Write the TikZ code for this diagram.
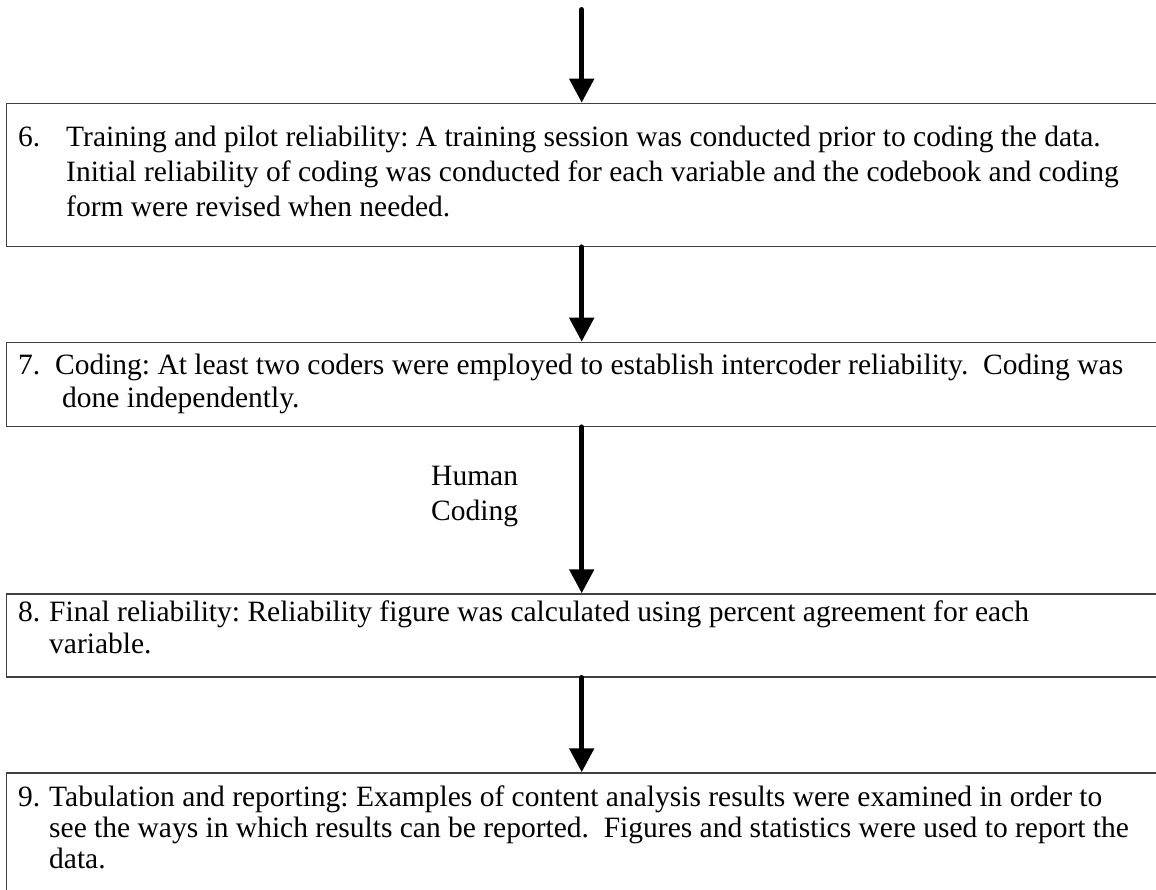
\documentclass[tikz,border=0pt]{standalone}
\usepackage{fontspec}
\setmainfont{Liberation Serif}
\usetikzlibrary{arrows.meta}
\begin{document}
\begin{tikzpicture}[x=1pt,y=-1pt,
  stepbox/.style={draw=black!75, line width=1.2pt, rectangle, inner sep=0pt,
    anchor=north west, minimum width=1180pt},
  txt/.style={anchor=base west, inner sep=0pt, font=\fontsize{29.5}{#1}\selectfont},
  flow/.style={line width=5pt, line cap=round, -{Triangle[length=24pt,width=24pt]}}]
\useasboundingbox (0,0) rectangle (1156,890);
\clip (0,0) rectangle (1156,890);
\frenchspacing
% boxes
\node[stepbox, minimum height=143pt] (b6) at (6,102.7) {};
\node[stepbox, minimum height=84pt]  (b7) at (6,341.7) {};
\node[stepbox, minimum height=83pt]  (b8) at (6,593.3) {};
\node[stepbox, minimum height=160pt] (b9) at (6,772.3) {};
% texts
\node[txt=35] (t6) at (18,146.7) {\begin{tabular}[t]{@{}p{48pt}@{}l@{}}
6. & Training and pilot reliability: A training session was conducted prior to coding the data.\\
   & Initial reliability of coding was conducted for each variable and the codebook and coding\\
   & form were revised when needed.
\end{tabular}};
\node[txt=33] (t7) at (18,374.3) {\begin{tabular}[t]{@{}p{44pt}@{}l@{}}
\multicolumn{2}{@{}l@{}}{7.\ \ Coding: At least two coders were employed to establish intercoder reliability.\ \ Coding was}\\
   & done independently.
\end{tabular}};
\node[txt=32] (t8) at (18,621.7) {\begin{tabular}[t]{@{}p{31pt}@{}l@{}}
8. & Final reliability: Reliability figure was calculated using percent agreement for each\\
   & variable.
\end{tabular}};
\node[txt=31] (t9) at (18,806.7) {\begin{tabular}[t]{@{}p{31pt}@{}l@{}}
9. & Tabulation and reporting: Examples of content analysis results were examined in order to\\
   & see the ways in which results can be reported.\ \ Figures and statistics were used to report the\\
   & data.
\end{tabular}};
\node[txt=35] (hc) at (431,485) {\begin{tabular}[t]{@{}l@{}}Human\\Coding\end{tabular}};
% arrows
\coordinate (ax) at (581.7,9.5);
\draw[flow] (ax) -- (b6.north -| ax);
\draw[flow] (b6.south -| ax) -- (b7.north -| ax);
\draw[flow] (b7.south -| ax) -- (b8.north -| ax);
\draw[flow] (b8.south -| ax) -- (b9.north -| ax);
\end{tikzpicture}
\end{document}
